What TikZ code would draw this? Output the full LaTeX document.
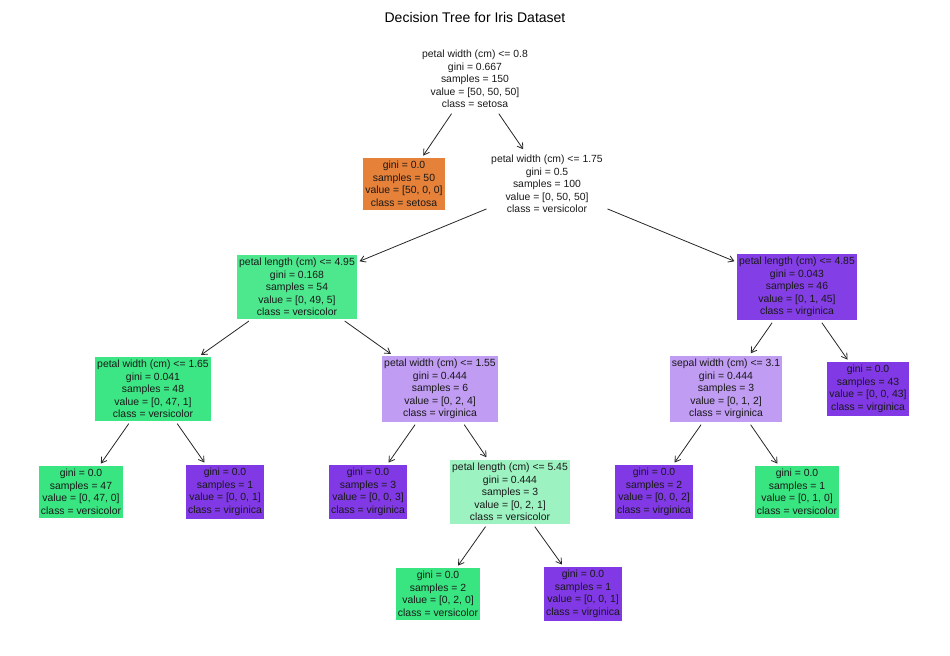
\documentclass[tikz,border=0pt]{standalone}
\usepackage{fontspec}
\setmainfont{Liberation Sans}
\usetikzlibrary{arrows.meta,positioning}
\definecolor{setosa}{HTML}{E58139}
\definecolor{versi}{HTML}{39E581}
\definecolor{versiA}{HTML}{4DE88E}
\definecolor{versiB}{HTML}{3DE684}
\definecolor{versiL}{HTML}{9CF2C0}
\definecolor{virgi}{HTML}{8139E5}
\definecolor{virgiA}{HTML}{843EE6}
\definecolor{virgiL}{HTML}{C09CF2}

\begin{document}
\begin{tikzpicture}[
    x=0.75pt, y=-0.75pt,
    box/.style={rectangle, align=center, inner xsep=1.5pt, inner ysep=2.5pt,
                font=\fontsize{7.8}{9.4}\selectfont, text=black!90},
    edge/.style={->, draw=black!85, line width=0.6pt, shorten <=2pt, shorten >=2pt},
    >={Straight Barb[length=4pt,width=5pt]}
]
    \useasboundingbox (0,0) rectangle (950,656);
    \node[font=\fontsize{10.5}{12}\selectfont] (title) at (475,17) {Decision Tree for Iris Dataset};

    % Internal nodes
    \node[box] (n0) at (475,79) {petal width (cm) <= 0.8\\gini = 0.667\\samples = 150\\value = [50, 50, 50]\\class = setosa};
    \node[box, fill=setosa] (n1) at (404,184) {gini = 0.0\\samples = 50\\value = [50, 0, 0]\\class = setosa};
    \node[box] (n2) at (547,184) {petal width (cm) <= 1.75\\gini = 0.5\\samples = 100\\value = [0, 50, 50]\\class = versicolor};
    \node[box, fill=versiA] (n3) at (297,287) {petal length (cm) <= 4.95\\gini = 0.168\\samples = 54\\value = [0, 49, 5]\\class = versicolor};
    \node[box, fill=virgiA] (n4) at (797,287) {petal length (cm) <= 4.85\\gini = 0.043\\samples = 46\\value = [0, 1, 45]\\class = virginica};
    \node[box, fill=versiB] (n5) at (153,389) {petal width (cm) <= 1.65\\gini = 0.041\\samples = 48\\value = [0, 47, 1]\\class = versicolor};
    \node[box, fill=virgiL] (n6) at (440,389) {petal width (cm) <= 1.55\\gini = 0.444\\samples = 6\\value = [0, 2, 4]\\class = virginica};
    \node[box, fill=virgiL] (n7) at (726,389) {sepal width (cm) <= 3.1\\gini = 0.444\\samples = 3\\value = [0, 1, 2]\\class = virginica};
    \node[box, fill=virgi] (n8) at (868,389) {gini = 0.0\\samples = 43\\value = [0, 0, 43]\\class = virginica};

    % Lower rows
    \node[box, fill=versi] (n9) at (81,492) {gini = 0.0\\samples = 47\\value = [0, 47, 0]\\class = versicolor};
    \node[box, fill=virgi] (n10) at (225,492) {gini = 0.0\\samples = 1\\value = [0, 0, 1]\\class = virginica};
    \node[box, fill=virgi] (n11) at (368,492) {gini = 0.0\\samples = 3\\value = [0, 0, 3]\\class = virginica};
    \node[box, fill=versiL] (n12) at (510,492) {petal length (cm) <= 5.45\\gini = 0.444\\samples = 3\\value = [0, 2, 1]\\class = versicolor};
    \node[box, fill=virgi] (n13) at (654,492) {gini = 0.0\\samples = 2\\value = [0, 0, 2]\\class = virginica};
    \node[box, fill=versi] (n14) at (797,492) {gini = 0.0\\samples = 1\\value = [0, 1, 0]\\class = versicolor};
    \node[box, fill=versi] (n15) at (438,594) {gini = 0.0\\samples = 2\\value = [0, 2, 0]\\class = versicolor};
    \node[box, fill=virgi] (n16) at (583,594) {gini = 0.0\\samples = 1\\value = [0, 0, 1]\\class = virginica};

    % Edges
    \foreach \a/\b in {n0/n1, n0/n2, n2/n3, n2/n4, n3/n5, n3/n6, n4/n7, n4/n8,
                       n5/n9, n5/n10, n6/n11, n6/n12, n7/n13, n7/n14, n12/n15, n12/n16}
        \draw[edge] (\a) -- (\b);
\end{tikzpicture}
\end{document}
